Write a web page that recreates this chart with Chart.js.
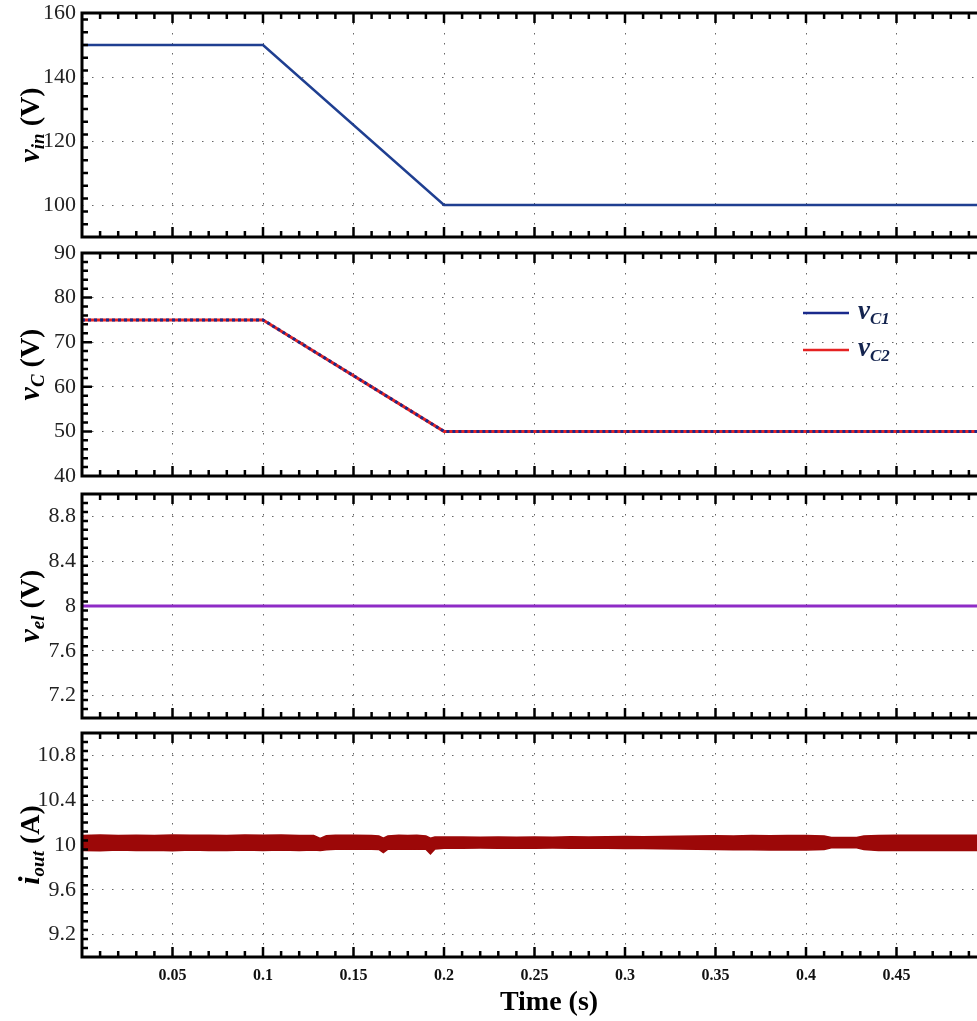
<!DOCTYPE html>
<html><head><meta charset="utf-8">
<script src="https://cdn.jsdelivr.net/npm/chart.js@4.4.1/dist/chart.umd.min.js"></script>
<style>
html,body{margin:0;padding:0;background:#fff;overflow:hidden;}
#wrap{position:relative;width:977px;height:1021px;overflow:hidden;background:#fff;}
canvas{position:absolute;left:0;top:0;}
</style></head><body>
<div id="wrap">
<canvas id="c1" width="1000" height="1021"></canvas>
<canvas id="c2" width="1000" height="1021"></canvas>
<canvas id="c3" width="1000" height="1021"></canvas>
<canvas id="c4" width="1000" height="1021"></canvas>
</div>
<script>
// ---------- data ----------
const timeTicks = [0.05,0.1,0.15,0.2,0.25,0.3,0.35,0.4,0.45];
const vinTicks  = [100,120,140,160];
const vcTicks   = [40,50,60,70,80,90];
const velTicks  = [7.2,7.6,8,8.4,8.8];
const ioutTicks = [9.2,9.6,10,10.4,10.8];

const vinT = [0,0.1,0.2,0.5];
const vin  = [150,150,100,100];

const vcT = [0,0.1,0.2,0.5];
const vc1 = [75,75,50,50];
const vc2 = [75,75,50,50];

const velT = [0,0.5];
const vel  = [8,8];

const ioutT = [0,0.01,0.02,0.03,0.04,0.05,0.06,0.07,0.08,0.09,0.10,0.11,0.12,
  0.128,0.1316,0.135,0.14,0.15,0.16,0.164,0.1665,0.169,0.175,0.18,0.185,0.19,
  0.1925,0.195,0.2,0.21,0.22,0.23,0.24,0.25,0.26,0.27,0.28,0.29,0.30,0.31,0.32,
  0.33,0.34,0.35,0.36,0.37,0.38,0.39,0.40,0.41,0.414,0.42,0.428,0.432,
  0.44,0.45,0.46,0.47,0.48,0.49,0.50];
const ioutUpper = [10.085,10.09,10.085,10.088,10.085,10.09,10.086,10.088,10.085,10.09,10.086,10.09,10.085,
  10.085,10.058,10.082,10.088,10.086,10.084,10.08,10.06,10.08,10.086,10.084,10.086,10.08,
  10.06,10.072,10.072,10.072,10.07,10.072,10.07,10.072,10.07,10.074,10.072,10.074,10.075,10.074,10.076,
  10.078,10.08,10.082,10.08,10.084,10.082,10.085,10.084,10.08,10.068,10.066,10.068,10.08,
  10.085,10.088,10.086,10.088,10.086,10.088,10.086];
const ioutLower = [9.952,9.948,9.955,9.95,9.953,9.948,9.955,9.95,9.952,9.955,9.95,9.955,9.952,
  9.955,9.95,9.958,9.962,9.965,9.962,9.96,9.932,9.962,9.965,9.962,9.965,9.962,
  9.92,9.965,9.972,9.972,9.973,9.972,9.974,9.972,9.973,9.972,9.97,9.97,9.968,9.968,9.966,
  9.964,9.962,9.96,9.958,9.958,9.956,9.955,9.955,9.96,9.975,9.976,9.975,9.96,
  9.952,9.95,9.952,9.95,9.952,9.95,9.952];

// ---------- helpers ----------
const SERIF = '"Liberation Serif","Times New Roman",Times,serif';
const pts = (xs, ys) => xs.map((x,i)=>({x:x, y:ys[i]}));
const fmt = v => String(Math.round(v*1000)/1000);

const decor = {
  id: 'decor',
  afterDraw(chart, args, o) {
    if (!o || !o.on) return;
    const ctx = chart.ctx, a = chart.chartArea;
    const xs = chart.scales.x, ys = chart.scales.y;
    ctx.save();
    ctx.strokeStyle = '#000';
    ctx.lineCap = 'butt';
    // x ticks (inward, top & bottom)
    const xn = Math.round((xs.max - xs.min) / o.xMinor);
    for (let i = 1; i < xn; i++) {
      const v = xs.min + i * o.xMinor;
      const major = timeTicks.some(t => Math.abs(t - v) < 1e-6);
      const len = major ? 10 : 6;
      const px = xs.getPixelForValue(v);
      ctx.lineWidth = 2.5;
      ctx.beginPath();
      ctx.moveTo(px, a.bottom); ctx.lineTo(px, a.bottom - len);
      ctx.moveTo(px, a.top); ctx.lineTo(px, a.top + len);
      ctx.stroke();
    }
    // y ticks (inward, left & right)
    const yn = Math.round((ys.max - ys.min) / o.yMinor);
    for (let i = 1; i < yn; i++) {
      const v = ys.min + i * o.yMinor;
      const major = o.yTicks.some(t => Math.abs(t - v) < 1e-6);
      const len = major ? 10 : 6;
      const py = ys.getPixelForValue(v);
      ctx.lineWidth = 2.5;
      ctx.beginPath();
      ctx.moveTo(a.left, py); ctx.lineTo(a.left + len, py);
      ctx.moveTo(a.right, py); ctx.lineTo(a.right - len, py);
      ctx.stroke();
    }
    // frame
    ctx.lineWidth = 3;
    ctx.strokeRect(a.left, a.top, a.right - a.left, a.bottom - a.top);

    // y title (rotated, with subscript)
    const segs = o.title;
    ctx.fillStyle = '#000';
    ctx.textBaseline = 'alphabetic';
    let total = 0;
    segs.forEach(s => { ctx.font = s.font; total += ctx.measureText(s.text).width; });
    ctx.translate(o.titleX, (a.top + a.bottom) / 2);
    ctx.rotate(-Math.PI / 2);
    let x = -total / 2;
    segs.forEach(s => {
      ctx.font = s.font;
      ctx.fillText(s.text, x, 9 + (s.dy || 0));
      x += ctx.measureText(s.text).width;
    });
    ctx.setTransform(1,0,0,1,0,0);

    // legend
    if (o.legend) {
      o.legend.forEach(l => {
        ctx.strokeStyle = l.color; ctx.lineWidth = 2.5;
        ctx.beginPath(); ctx.moveTo(803, l.y); ctx.lineTo(849, l.y); ctx.stroke();
        ctx.fillStyle = '#14244f';
        ctx.font = 'italic bold 27px ' + SERIF;
        ctx.fillText('v', 858, l.y + 6);
        const w = ctx.measureText('v').width;
        ctx.font = 'italic bold 17px ' + SERIF;
        ctx.fillText(l.sub, 858 + w, l.y + 11);
      });
    }
    // x title
    if (o.xTitle) {
      ctx.fillStyle = '#000';
      ctx.font = 'bold 28px ' + SERIF;
      ctx.textAlign = 'center';
      ctx.fillText(o.xTitle, 549, 1010);
    }
    ctx.restore();
  }
};
Chart.register(decor);

function makeChart(id, cfg) {
  const bottomPanel = !!cfg.xTitle;
  const xHeight = bottomPanel ? 30 : 0;
  return new Chart(document.getElementById(id), {
    type: 'line',
    data: { datasets: cfg.datasets },
    options: {
      responsive: false,
      animation: false,
      devicePixelRatio: 1,
      events: [],
      layout: { padding: { left: 0, right: 13, top: cfg.top, bottom: 1021 - cfg.bottom - xHeight } },
      elements: { point: { radius: 0 }, line: { tension: 0 } },
      scales: {
        x: {
          type: 'linear', min: 0, max: 0.5,
          afterBuildTicks: s => { s.ticks = timeTicks.map(v => ({ value: v })); },
          afterFit: s => { s.height = xHeight; },
          ticks: { display: bottomPanel, autoSkip: false, maxRotation: 0, padding: 9,
                   color: '#111', font: { family: SERIF, size: 16, weight: 'bold' }, callback: v => fmt(v) },
          grid: { color: '#666', lineWidth: 1, drawTicks: false },
          border: { display: false, dash: [1.5, 8.5] }
        },
        y: {
          type: 'linear', min: cfg.ymin, max: cfg.ymax,
          afterBuildTicks: s => { s.ticks = cfg.yTicks.map(v => ({ value: v })); },
          afterFit: s => { s.width = 82; },
          ticks: { padding: 6, color: '#222', font: { family: SERIF, size: 22, lineHeight: 0.3 }, callback: v => fmt(v) },
          grid: { color: '#666', lineWidth: 1, drawTicks: false },
          border: { display: false, dash: [1.5, 8.5] }
        }
      },
      plugins: {
        legend: { display: false },
        tooltip: { enabled: false },
        decor: { on: true, xMinor: 0.01, yMinor: cfg.yMinor, yTicks: cfg.yTicks,
                 title: cfg.title, titleX: 30, legend: cfg.legend, xTitle: cfg.xTitle }
      }
    }
  });
}

const TB = 'bold 28px ' + SERIF, TBI = 'italic bold 30px ' + SERIF, TSUB = 'italic bold 19px ' + SERIF;

makeChart('c1', {
  top: 13, bottom: 237, ymin: 90, ymax: 160, yTicks: vinTicks, yMinor: 4,
  title: [{text:'v', font:TBI}, {text:'in', font:TSUB, dy:5}, {text:' (V)', font:TB}],
  datasets: [{ label: 'vin', data: pts(vinT, vin), borderColor: '#1f3f91', borderWidth: 2.5, fill: false }]
});

makeChart('c2', {
  top: 253, bottom: 476, ymin: 40, ymax: 90, yTicks: vcTicks, yMinor: 2,
  title: [{text:'v', font:TBI}, {text:'C', font:TSUB, dy:5}, {text:' (V)', font:TB}],
  legend: [{ y: 313, color: '#1a2a8c', sub: 'C1' }, { y: 350, color: '#e52222', sub: 'C2' }],
  datasets: [
    { label: 'vC1', data: pts(vcT, vc1), borderColor: '#1a2a8c', borderWidth: 3, borderDash: [3, 3], fill: false, order: 1 },
    { label: 'vC2', data: pts(vcT, vc2), borderColor: '#e52222', borderWidth: 3, fill: false, order: 2 }
  ]
});

makeChart('c3', {
  top: 494, bottom: 718, ymin: 7, ymax: 9, yTicks: velTicks, yMinor: 0.08,
  title: [{text:'v', font:TBI}, {text:'el', font:TSUB, dy:5}, {text:' (V)', font:TB}],
  datasets: [{ label: 'vel', data: pts(velT, vel), borderColor: '#8e2bc6', borderWidth: 3, fill: false }]
});

makeChart('c4', {
  top: 733, bottom: 957, ymin: 9, ymax: 11, yTicks: ioutTicks, yMinor: 0.08,
  title: [{text:'i', font:TBI}, {text:'out', font:TSUB, dy:5}, {text:' (A)', font:TB}],
  xTitle: 'Time (s)',
  datasets: [
    { label: 'iout upper', data: pts(ioutT, ioutUpper), borderColor: '#9c0808', backgroundColor: '#9c0808', borderWidth: 1.5, fill: '+1' },
    { label: 'iout lower', data: pts(ioutT, ioutLower), borderColor: '#9c0808', borderWidth: 1.5, fill: false }
  ]
});
</script>
</body></html>
